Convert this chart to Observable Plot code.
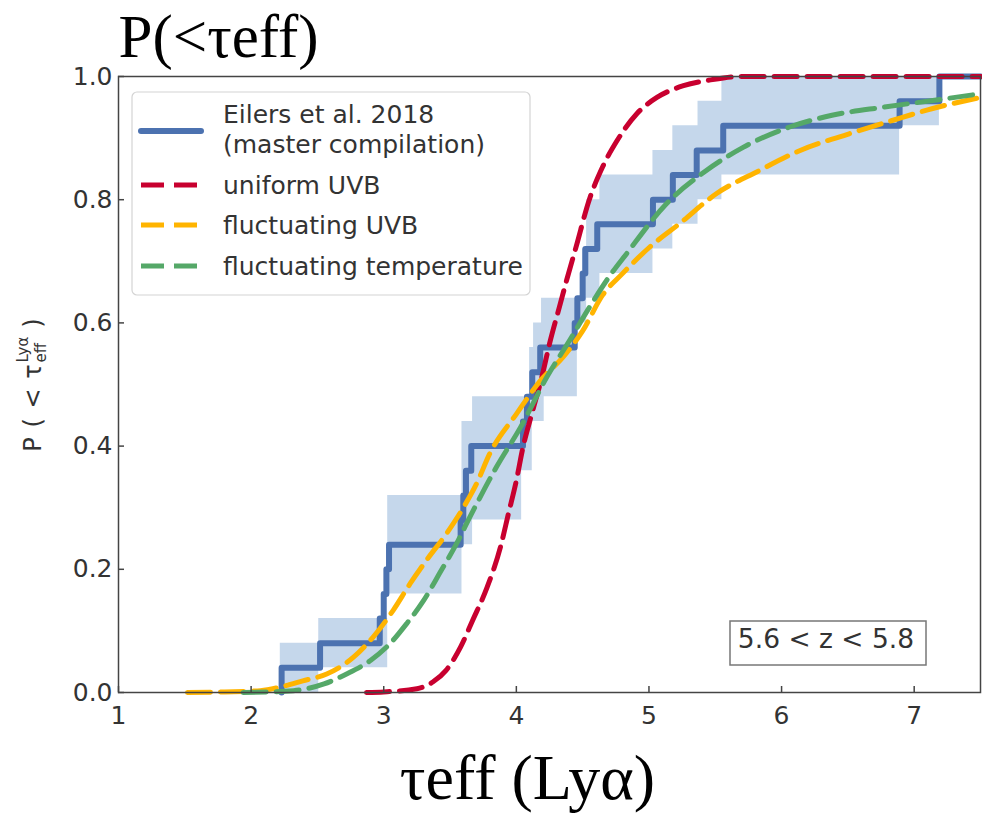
<!DOCTYPE html>
<html>
<head>
<meta charset="utf-8">
<script src="https://cdn.jsdelivr.net/npm/d3@7"></script>
<script src="https://cdn.jsdelivr.net/npm/@observablehq/plot@0.6"></script>
<style>
html, body { margin: 0; padding: 0; background: #fff; }
#chart { position: relative; width: 982px; height: 818px; overflow: hidden; }
</style>
</head>
<body>
<div id="chart"></div>
<script>
// ---- Observed CDF (Eilers et al. 2018, master compilation) ----
const stepTau = [2.23, 2.23, 2.52, 2.97, 3.00, 3.02, 3.04, 3.58, 3.60, 3.62, 3.66, 4.05, 4.08, 4.12, 4.18, 4.44, 4.46, 4.50, 4.52, 4.61, 5.03, 5.18, 5.36, 5.56, 6.89, 7.19, 7.50];
const stepP   = [0.00, 0.04, 0.08, 0.12, 0.16, 0.20, 0.24, 0.28, 0.32, 0.36, 0.40, 0.44, 0.48, 0.52, 0.56, 0.60, 0.64, 0.68, 0.72, 0.76, 0.80, 0.84, 0.88, 0.92, 0.96, 1.00, 1.00];

// ---- Shaded uncertainty band around the observed CDF ----
const bandTau  = [2.22, 2.51, 3.03, 3.59, 3.67, 4.04, 4.10, 4.12, 4.13, 4.19, 4.21, 4.46, 4.50, 4.53, 4.63, 5.03, 5.18, 5.37, 5.55, 6.89, 7.19];
const bandLow  = [0.00, 0.04, 0.16, 0.24, 0.28, 0.36, 0.36, 0.44, 0.44, 0.44, 0.48, 0.60, 0.60, 0.64, 0.68, 0.72, 0.76, 0.80, 0.84, 0.92, 1.00];
const bandHigh = [0.08, 0.12, 0.32, 0.44, 0.48, 0.48, 0.56, 0.56, 0.60, 0.64, 0.64, 0.64, 0.72, 0.80, 0.84, 0.88, 0.92, 0.96, 1.00, 1.00, 1.00];

// ---- Model: uniform UVB ----
const uniformTau = [2.87, 3.00, 3.25, 3.37, 3.47, 3.58, 3.67, 3.78, 3.88, 3.94, 4.00, 4.05, 4.12, 4.19, 4.25, 4.33, 4.38, 4.45, 4.55, 4.65, 4.76, 4.91, 5.06, 5.26, 5.48, 5.70, 7.50];
const uniformP   = [0.000, 0.001, 0.006, 0.017, 0.036, 0.074, 0.117, 0.171, 0.236, 0.290, 0.344, 0.398, 0.455, 0.510, 0.566, 0.630, 0.670, 0.723, 0.800, 0.853, 0.896, 0.940, 0.966, 0.985, 0.995, 1.000, 1.000];

// ---- Model: fluctuating UVB ----
const fluctUVBTau = [1.52, 1.80, 2.07, 2.24, 2.39, 2.57, 2.77, 2.92, 3.07, 3.20, 3.32, 3.48, 3.60, 3.70, 3.80, 4.00, 4.18, 4.35, 4.50, 4.65, 4.80, 5.00, 5.23, 5.51, 5.83, 6.14, 6.51, 6.84, 7.14, 7.50];
const fluctUVBP   = [0.000, 0.001, 0.003, 0.010, 0.019, 0.030, 0.057, 0.090, 0.133, 0.177, 0.214, 0.260, 0.300, 0.339, 0.388, 0.452, 0.506, 0.544, 0.587, 0.645, 0.680, 0.722, 0.761, 0.810, 0.847, 0.880, 0.907, 0.929, 0.948, 0.966];

// ---- Model: fluctuating temperature ----
const fluctTempTau = [1.94, 2.32, 2.55, 2.72, 2.90, 3.05, 3.17, 3.30, 3.42, 3.55, 3.65, 3.85, 4.03, 4.23, 4.40, 4.55, 4.70, 4.83, 5.13, 5.43, 5.71, 6.06, 6.38, 6.76, 7.14, 7.50];
const fluctTempP   = [0.000, 0.003, 0.014, 0.030, 0.052, 0.080, 0.111, 0.149, 0.193, 0.242, 0.285, 0.366, 0.430, 0.512, 0.571, 0.625, 0.675, 0.712, 0.793, 0.847, 0.885, 0.918, 0.937, 0.950, 0.961, 0.972];

// ---- Axes ----
const xTicks = [1, 2, 3, 4, 5, 6, 7];
const yTicks = [0.0, 0.2, 0.4, 0.6, 0.8, 1.0];

// ---- Texts ----
const titleText = "P(<τeff)";
const xLabelText = "τeff (Lyα)";
const legendLines = [["Eilers et al. 2018", "(master compilation)"], ["uniform UVB"], ["fluctuating UVB"], ["fluctuating temperature"]];
const redshiftText = "5.6 < z < 5.8";

const colBlue = "#4c72b0", colRed = "#c8002f", colOrange = "#ffb400", colGreen = "#55a868", colBand = "#c5d7eb";
const SANS = "DejaVu Sans, Verdana, sans-serif";
const SERIF = "Liberation Serif, Times New Roman, serif";
const DASH = "23,10";

const W = 982, H = 818, ML = 118, MR = 2, MT = 76, MB = 126;
const TICK = 6;

const zipXY = (xs, ys) => xs.map((x, i) => ({x, y: ys[i]}));
const stepData = zipXY(stepTau, stepP);
const bandData = bandTau.map((x, i) => ({x, lo: bandLow[i], hi: bandHigh[i]}));
const uniformData = zipXY(uniformTau, uniformP);
const fluctUVBData = zipXY(fluctUVBTau, fluctUVBP);
const fluctTempData = zipXY(fluctTempTau, fluctTempP);

const plot = Plot.plot({
  width: W,
  height: H,
  marginLeft: ML,
  marginRight: MR,
  marginTop: MT,
  marginBottom: MB,
  style: {fontFamily: SANS, color: "#333", background: "#fff", overflow: "visible"},
  x: {domain: [1, 7.5]},
  y: {domain: [0, 1]},
  marks: [
    Plot.areaY(bandData, {x: "x", y1: "lo", y2: "hi", curve: "step-after", fill: colBand}),
    Plot.line(stepData, {x: "x", y: "y", curve: "step-after", stroke: colBlue, strokeWidth: 6, strokeLinejoin: "round"}),
    Plot.line(uniformData, {x: "x", y: "y", curve: "monotone-x", stroke: colRed, strokeWidth: 5, strokeDasharray: DASH}),
    Plot.line(fluctUVBData, {x: "x", y: "y", curve: "monotone-x", stroke: colOrange, strokeWidth: 5, strokeDasharray: DASH}),
    Plot.line(fluctTempData, {x: "x", y: "y", curve: "monotone-x", stroke: colGreen, strokeWidth: 5, strokeDasharray: DASH}),
    // inward tick marks
    Plot.tickX(xTicks, {x: d => d, insetTop: H - MT - MB - TICK, stroke: "#444", strokeWidth: 1.5}),
    Plot.tickY(yTicks, {y: d => d, insetRight: W - ML - MR - TICK, stroke: "#444", strokeWidth: 1.5}),
    Plot.frame({stroke: "#444", strokeWidth: 1.5}),
    Plot.axisX(xTicks, {tickSize: 0, tickPadding: 14, fontSize: 25, tickFormat: d => String(d), label: null}),
    Plot.axisY(yTicks, {tickSize: 0, tickPadding: 6, fontSize: 25, tickFormat: d3.format(".1f"), label: null}),
    Plot.text([titleText], {text: d => d, frameAnchor: "top-left", textAnchor: "start", lineAnchor: "bottom", dy: -20, fontSize: 61, fontFamily: SERIF, fill: "#000"}),
    Plot.text([xLabelText], {text: d => d, frameAnchor: "bottom", lineAnchor: "bottom", dy: 106, dx: -22, fontSize: 64, fontFamily: SERIF, fill: "#000"})
  ]
});

document.getElementById("chart").appendChild(plot);

// ---- decorations appended to the Plot SVG ----
const svg = d3.select(plot);

// Legend
const lg = svg.append("g").attr("class", "legend").attr("font-family", SANS).attr("fill", "#333")
  .attr("font-size", 25).attr("text-anchor", "start");
lg.append("rect").attr("x", 132).attr("y", 92).attr("width", 398).attr("height", 203).attr("rx", 5)
  .attr("fill", "rgba(255,255,255,0.85)").attr("stroke", "#d4d4d4").attr("stroke-width", 1.2);
const legendRows = [
  {c: colBlue, dash: null, ly: 131, baselines: [123, 153]},
  {c: colRed, dash: DASH, ly: 185, baselines: [194]},
  {c: colOrange, dash: DASH, ly: 225, baselines: [234]},
  {c: colGreen, dash: DASH, ly: 266, baselines: [275]}
];
legendRows.forEach((r, i) => {
  const ln = lg.append("line").attr("x1", 141).attr("x2", 201).attr("y1", r.ly).attr("y2", r.ly)
    .attr("stroke", r.c).attr("stroke-width", r.dash ? 5 : 6).attr("stroke-linecap", r.dash ? "butt" : "round");
  if (r.dash) ln.attr("stroke-dasharray", r.dash);
  legendLines[i].forEach((t, j) => {
    lg.append("text").attr("x", 223).attr("y", r.baselines[j]).text(t);
  });
});

// Redshift annotation box
const ann = svg.append("g").attr("font-family", SANS);
ann.append("rect").attr("x", 730).attr("y", 621).attr("width", 196).attr("height", 44)
  .attr("fill", "#fff").attr("stroke", "#777").attr("stroke-width", 1.5);
ann.append("text").attr("x", 826).attr("y", 648).attr("text-anchor", "middle").attr("font-size", 26.5).attr("fill", "#333").text(redshiftText);

// Y-axis label: P ( < τ_eff^Lyα )
const yl = svg.append("g").attr("transform", "translate(41,385) rotate(-90)").attr("font-family", SANS)
  .attr("fill", "#333").attr("text-anchor", "start");
const t1 = yl.append("text").attr("x", 0).attr("y", 0).attr("font-size", 24).attr("word-spacing", 2).text("P ( < τ");
const w1 = t1.node().getComputedTextLength() + 2;
const sup = yl.append("text").attr("x", w1).attr("y", -13).attr("font-size", 15).text("Lyα");
const sub = yl.append("text").attr("x", w1).attr("y", 5).attr("font-size", 15).text("eff");
const w2 = Math.max(sup.node().getComputedTextLength(), sub.node().getComputedTextLength());
const t2 = yl.append("text").attr("x", w1 + w2 + 9).attr("y", 0).attr("font-size", 24).text(")");
const total = w1 + w2 + 9 + t2.node().getComputedTextLength();
yl.selectAll("text").attr("transform", `translate(${-total / 2},0)`);
</script>
</body>
</html>
